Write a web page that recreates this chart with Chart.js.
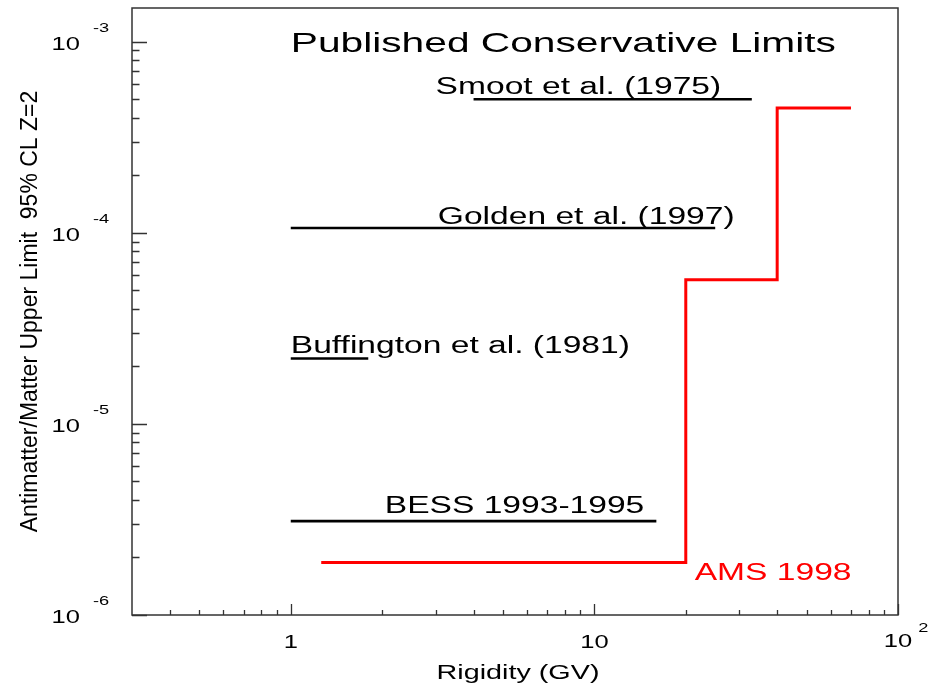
<!DOCTYPE html>
<html>
<head>
<meta charset="utf-8">
<script src="https://cdn.jsdelivr.net/npm/chart.js@4/dist/chart.umd.min.js"></script>
<style>
  html, body { margin: 0; padding: 0; background: #ffffff; }
  canvas { display: block; }
</style>
</head>
<body>
<canvas id="limits" width="931" height="684"></canvas>
<script>
// Published antimatter/matter upper limits versus rigidity
const limitNames  = ['Smoot et al. (1975)', 'Golden et al. (1997)', 'Buffington et al. (1981)', 'BESS 1993-1995'];
const limitLow    = [4, 1, 1, 1];            // GV
const limitHigh   = [33, 25, 1.8, 16];       // GV
const limitValues = [5.0e-4, 1.06e-4, 2.2e-5, 3.1e-6];

// AMS 1998: bin edges (GV) and the limit in each bin
const amsEdges  = [1.26, 20, 40, 70];
const amsLimits = [1.88e-6, 5.68e-5, 4.5e-4];

// Axis ranges and labelled decades
const xRange = [0.3, 100];
const yRange = [1e-6, 1.5e-3];
const xTickDecades = [0, 1, 2];        // 1, 10, 10^2
const yTickDecades = [-6, -5, -4, -3];

const FONT = '"Liberation Sans", Arial, Helvetica, sans-serif';
const STRETCH = 1.46;   // wide Helvetica look

function stretchedText(ctx, text, x, y, size, align, color, sx) {
  const k = sx || STRETCH;
  ctx.save();
  ctx.font = size + 'px ' + FONT;
  ctx.fillStyle = color || '#000';
  ctx.textBaseline = 'alphabetic';
  let w = ctx.measureText(text).width * k;
  let x0 = x;
  if (align === 'center') x0 = x - w / 2;
  else if (align === 'right') x0 = x - w;
  ctx.translate(x0, y);
  ctx.scale(k, 1);
  ctx.textAlign = 'left';
  ctx.fillText(text, 0, 0);
  ctx.restore();
  return w;
}

// Build the step outline for AMS from its bins
const amsPoints = [];
for (let i = 0; i < amsLimits.length; i++) {
  amsPoints.push({ x: amsEdges[i], y: amsLimits[i] });
  amsPoints.push({ x: amsEdges[i + 1], y: amsLimits[i] });
}

const datasets = limitNames.map((name, i) => ({
  label: name,
  data: [{ x: limitLow[i], y: limitValues[i] }, { x: limitHigh[i], y: limitValues[i] }],
  borderColor: '#000000',
  borderWidth: 2.6,
  showLine: true,
  pointRadius: 0,
  borderCapStyle: 'butt',
  tension: 0
}));
datasets.push({
  label: 'AMS 1998',
  data: amsPoints,
  borderColor: '#ff0000',
  borderWidth: 3,
  showLine: true,
  pointRadius: 0,
  borderCapStyle: 'butt',
  borderJoinStyle: 'miter',
  tension: 0
});

// Text placed in data coordinates (left edge, baseline)
const annotations = [
  { text: 'Published Conservative Limits', x: 1.0,  y: 8.79e-4, size: 27.5, color: '#000', sx: 1.48 },
  { text: limitNames[0],                   x: 3.0,  y: 5.3e-4,  size: 23,   color: '#000' },
  { text: limitNames[1],                   x: 3.05, y: 1.11e-4, size: 23,   color: '#000' },
  { text: limitNames[2],                   x: 1.0,  y: 2.36e-5, size: 23,   color: '#000' },
  { text: limitNames[3],                   x: 2.04, y: 3.41e-6, size: 23,   color: '#000' },
  { text: 'AMS 1998',                      x: 21.4, y: 1.52e-6, size: 23,   color: '#ff0000' }
];

const framePlugin = {
  id: 'rootFrame',
  afterDatasetsDraw(chart) {
    const ctx = chart.ctx;
    const a = chart.chartArea;
    const xs = chart.scales.x, ys = chart.scales.y;
    ctx.save();
    // frame
    ctx.strokeStyle = '#333333';
    ctx.lineWidth = 1.5;
    ctx.strokeRect(a.left, a.top, a.right - a.left, a.bottom - a.top);

    // y ticks (inside, on the left)
    ctx.lineWidth = 1.3;
    ctx.beginPath();
    for (let e = -7; e <= -2; e++) {
      for (let k = 1; k <= 9; k++) {
        const v = k * Math.pow(10, e);
        if (v < yRange[0] * 0.999 || v > yRange[1]) continue;
        const py = Math.round(ys.getPixelForValue(v)) + 0.5;
        const len = k === 1 ? 15 : 7.5;
        ctx.moveTo(a.left, py);
        ctx.lineTo(a.left + len, py);
      }
    }
    // x ticks (inside, on the bottom)
    for (let e = -1; e <= 2; e++) {
      for (let k = 1; k <= 9; k++) {
        const v = k * Math.pow(10, e);
        if (v <= xRange[0] * 1.001 || v > xRange[1] * 1.001) continue;
        const px = Math.round(xs.getPixelForValue(v)) + 0.5;
        const len = k === 1 ? 11 : 5;
        ctx.moveTo(px, a.bottom);
        ctx.lineTo(px, a.bottom - len);
      }
    }
    ctx.stroke();

    // y tick labels: 10 with exponent
    yTickDecades.forEach(e => {
      const py = ys.getPixelForValue(Math.pow(10, e));
      stretchedText(ctx, '10', 80, py + 8, 17.5, 'right', '#000');
      stretchedText(ctx, String(e), 93, py - 10, 13.5, 'left', '#000', 1.35);
    });

    // x tick labels
    xTickDecades.forEach(e => {
      const px = xs.getPixelForValue(Math.pow(10, e));
      if (e < 2) {
        stretchedText(ctx, String(Math.pow(10, e)), px, a.bottom + 33, 17.5, 'center', '#000');
      } else {
        const w = stretchedText(ctx, '10', px, a.bottom + 32, 17.5, 'center', '#000');
        stretchedText(ctx, String(e), px + w / 2 + 6, a.bottom + 17, 13.5, 'left', '#000', 1.35);
      }
    });

    // axis titles
    stretchedText(ctx, 'Rigidity (GV)', (a.left + a.right) / 2 + 3, a.bottom + 63.5, 19.7, 'center', '#000');

    ctx.save();
    ctx.translate(37, (a.top + a.bottom) / 2);
    ctx.rotate(-Math.PI / 2);
    ctx.font = '23px ' + FONT;
    ctx.fillStyle = '#000';
    ctx.textAlign = 'center';
    ctx.textBaseline = 'alphabetic';
    ctx.fillText('Antimatter/Matter Upper Limit  95% CL Z=2', 0, 0);
    ctx.restore();

    // in-plot annotations
    annotations.forEach(t => {
      stretchedText(ctx, t.text, xs.getPixelForValue(t.x), ys.getPixelForValue(t.y), t.size, 'left', t.color, t.sx);
    });
    ctx.restore();
  }
};

new Chart(document.getElementById('limits'), {
  type: 'scatter',
  data: { datasets },
  options: {
    responsive: false,
    devicePixelRatio: 1,
    animation: false,
    layout: { padding: { left: 132, top: 8, right: 33, bottom: 69 } },
    plugins: { legend: { display: false }, tooltip: { enabled: false } },
    scales: {
      x: { type: 'logarithmic', min: xRange[0], max: xRange[1], display: false },
      y: { type: 'logarithmic', min: yRange[0], max: yRange[1], display: false }
    }
  },
  plugins: [framePlugin]
});
</script>
</body>
</html>
